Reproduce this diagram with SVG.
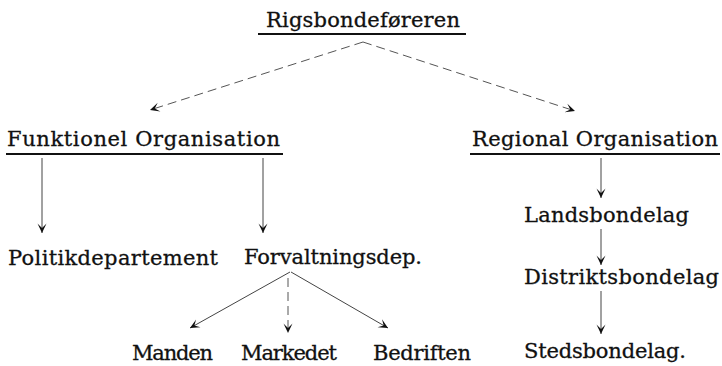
<svg xmlns="http://www.w3.org/2000/svg" width="722" height="366" viewBox="0 0 722 366">
<style>
  text { font-family: "DejaVu Serif", "Liberation Serif", serif; font-size: 21px; fill: #111; stroke: #111; stroke-width: 0.3; }
  .ul { stroke: #111; stroke-width: 1.8; }
  .c { stroke: #444; stroke-width: 1; fill: none; marker-end: url(#arr); }
  .d { stroke-dasharray: 9 5; stroke: #555; }
</style>
<defs>
  <marker id="arr" viewBox="0 0 10 10" refX="10" refY="5" markerWidth="10" markerHeight="10" markerUnits="userSpaceOnUse" orient="auto">
    <path d="M10,5 L0.5,0.5 L5,5 L0.5,9.5 Z" fill="#111"/>
  </marker>
</defs>
<g id="connectors">
  <line class="c d" x1="363" y1="42" x2="150" y2="110"/>
  <line class="c d" x1="363" y1="42" x2="575" y2="111"/>
  <line class="c" x1="42" y1="158" x2="42" y2="233"/>
  <line class="c" x1="263" y1="158" x2="263" y2="233"/>
  <line class="c" x1="601" y1="158" x2="601" y2="198"/>
  <line class="c" x1="601" y1="229" x2="601" y2="265"/>
  <line class="c" x1="601" y1="291" x2="601" y2="334"/>
  <line class="c" x1="290" y1="272" x2="190" y2="328"/>
  <line class="c d" x1="288" y1="278" x2="288" y2="333"/>
  <line class="c" x1="291" y1="272" x2="388" y2="328"/>
</g>
<g id="rigsbondeforeren">
  <text x="266" y="27" textLength="194" lengthAdjust="spacing">Rigsbondeføreren</text>
  <line class="ul" x1="258" y1="34" x2="466" y2="34"/>
</g>
<g id="funktionel">
  <text x="7" y="146" textLength="273" lengthAdjust="spacing">Funktionel Organisation</text>
  <line class="ul" x1="6" y1="154" x2="283" y2="154"/>
</g>
<g id="regional">
  <text x="472" y="146" textLength="246" lengthAdjust="spacing">Regional Organisation</text>
  <line class="ul" x1="470" y1="154" x2="720" y2="154"/>
</g>
<g id="politikdepartement">
  <text x="8" y="265" textLength="210" lengthAdjust="spacing">Politikdepartement</text>
</g>
<g id="forvaltningsdep">
  <text x="244" y="264" textLength="178" lengthAdjust="spacing">Forvaltningsdep.</text>
</g>
<g id="landsbondelag">
  <text x="524" y="222" textLength="165" lengthAdjust="spacing">Landsbondelag</text>
</g>
<g id="distriktsbondelag">
  <text x="524" y="284" textLength="195" lengthAdjust="spacing">Distriktsbondelag</text>
</g>
<g id="stedsbondelag">
  <text x="524" y="358" textLength="162" lengthAdjust="spacing">Stedsbondelag.</text>
</g>
<g id="manden">
  <text x="132" y="360" textLength="81" lengthAdjust="spacing">Manden</text>
</g>
<g id="markedet">
  <text x="241" y="360" textLength="96" lengthAdjust="spacing">Markedet</text>
</g>
<g id="bedriften">
  <text x="373" y="360" textLength="98" lengthAdjust="spacing">Bedriften</text>
</g>
</svg>
